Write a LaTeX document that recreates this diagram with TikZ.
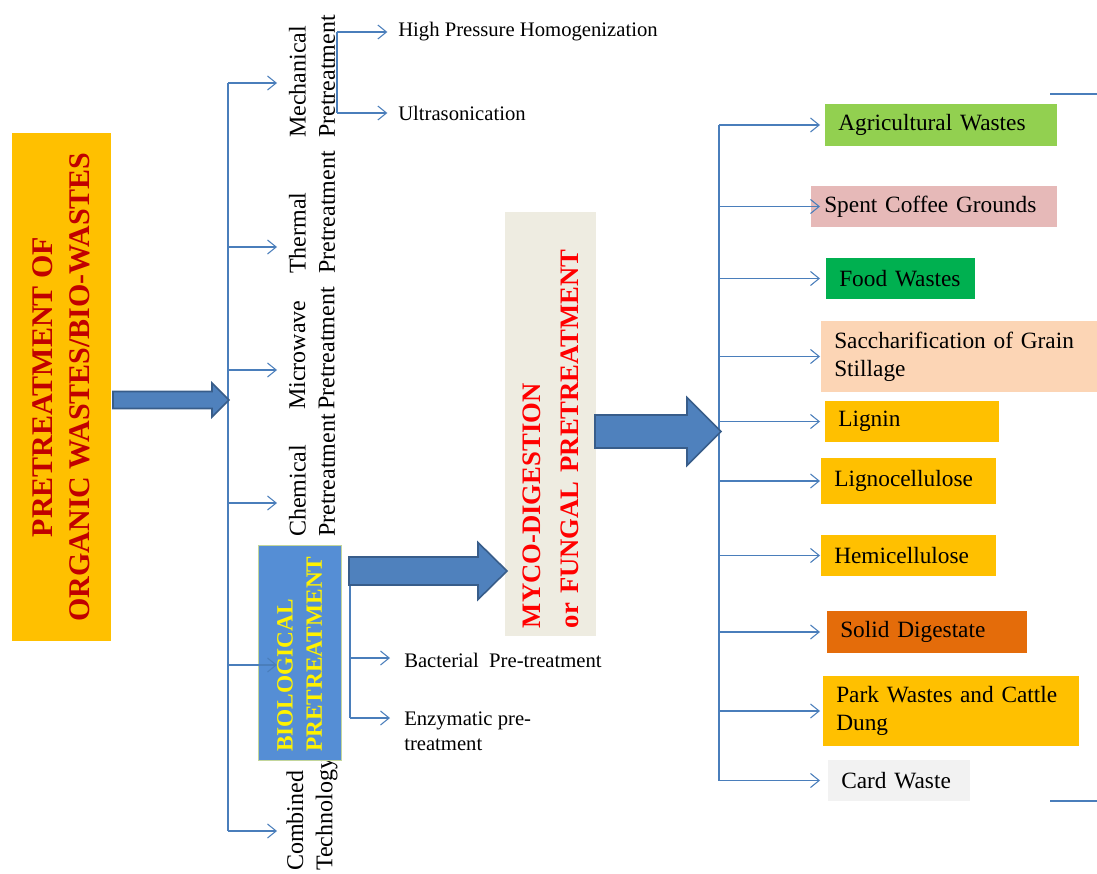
\documentclass[tikz,border=0pt]{standalone}
\usepackage{fontspec}
\setmainfont{Liberation Serif}
\usetikzlibrary{arrows.meta,positioning,calc}
\definecolor{linkblue}{HTML}{4A7EBB}
\definecolor{fatfill}{HTML}{4F81BD}
\definecolor{fatedge}{HTML}{385D8A}
\definecolor{goldbox}{HTML}{FFC000}
\definecolor{titlered}{HTML}{C00000}
\definecolor{mycobg}{HTML}{EEECE1}
\definecolor{biofill}{HTML}{558ED5}
\definecolor{bioedge}{HTML}{C3D69B}
\definecolor{agrigreen}{HTML}{92D050}
\definecolor{coffeepink}{HTML}{E6B9B8}
\definecolor{foodgreen}{HTML}{00B050}
\definecolor{sacchpeach}{HTML}{FCD5B5}
\definecolor{solidorange}{HTML}{E46C0A}
\definecolor{cardgrey}{HTML}{F2F2F2}
% block arrow: x start, x tip, y centre, half shaft, half head, head length
\newcommand{\fatarrow}[6]{%
  \filldraw[fat] (#1,#3-#4) -- (#2-#6,#3-#4) -- (#2-#6,#3-#5) -- (#2,#3)
    -- (#2-#6,#3+#5) -- (#2-#6,#3+#4) -- (#1,#3+#4) -- cycle;}

\begin{document}
\begin{tikzpicture}[
    x=0.75pt, y=-0.75pt,
    link/.style={draw=linkblue, line width=0.8pt},
    arr/.style={link, -{Straight Barb[length=6.5pt,width=10.5pt]}},
    fat/.style={fill=fatfill, draw=fatedge, line width=1.2pt},
    sidelab/.style={rotate=90, anchor=west, align=left, inner sep=0pt, font=\fontsize{18}{22}\selectfont},
    sublab/.style={anchor=west, align=left, inner sep=0pt, font=\fontsize{15.5}{19}\selectfont},
    wbox/.style={anchor=west, align=left, inner xsep=9.75pt, inner ysep=0pt, minimum height=31pt, font=\fontsize{17.5}{21}\selectfont}
]
  \useasboundingbox (0,0) rectangle (1097,874);

  % main box
  \node[rotate=90, fill=goldbox, minimum width=381pt, minimum height=74.25pt, inner sep=0pt,
        align=center, text=titlered, font=\bfseries\fontsize{22.5}{27.75}\selectfont]
        (title) at (61.5,387) {PRETREATMENT OF\\ORGANIC WASTES/BIO-WASTES};

  % pretreatment kinds
  \node[sidelab] (mech) at (312,138) {Mechanical\\Pretreatment};
  \node[sidelab] (therm) at (312,274) {Thermal\\Pretreatment};
  \node[sidelab] (micro) at (312,410) {Microwave\\Pretreatment};
  \node[sidelab] (chem) at (312,537) {Chemical\\Pretreatment};
  \node[sidelab] (comb) at (312,871) {Combined\\Technology};

  \node[rotate=90, fill=biofill, draw=bioedge, line width=0.6pt, minimum width=161.25pt, minimum height=62.25pt,
        inner xsep=6pt, inner ysep=0pt, text width=149pt, align=left, text=yellow,
        font=\bfseries\fontsize{17.5}{22}\selectfont]
        (bio) at (299.5,652.5) {BIOLOGICAL\\PRETREATMENT};

  \node[rotate=90, fill=mycobg, minimum width=318pt, minimum height=68.25pt,
        inner xsep=6pt, inner ysep=0pt, text width=306pt, align=left, text=red,
        font=\bfseries\fontsize{20}{28.5}\selectfont]
        (myco) at (550.5,424) {MYCO-DIGESTION\\or FUNGAL PRETREATMENT};

  % left tree
  \coordinate (spineL) at (228,400);
  \coordinate (mechIn) at (277,83);
  \coordinate (thermIn) at (277,247);
  \coordinate (microIn) at (277,370);
  \coordinate (chemIn) at (277,503);
  \coordinate (bioIn) at (277,665);
  \coordinate (combIn) at (277,831);
  \draw[link] (spineL |- mechIn) -- (spineL |- combIn);
  \foreach \t in {mechIn,thermIn,microIn,chemIn,bioIn,combIn}
    \draw[arr] (spineL |- \t) -- (\t);

  % mechanical sub-branches
  \node[sublab] (hph) at (398,32) {High Pressure Homogenization};
  \node[sublab] (ultra) at (398,113) {Ultrasonication};
  \coordinate (mechFork) at (337,33);
  \draw[link] (mechFork |- hph.west) -- (mechFork |- ultra.west);
  \draw[arr] (mechFork |- hph.west) -- ([xshift=-8pt]hph.west);
  \draw[arr] (mechFork |- ultra.west) -- ([xshift=-8pt]ultra.west);

  % biological sub-branches
  \node[sublab] (bact) at (404,660) {Bacterial\ \ Pre-treatment};
  \node[sublab] (enz) at (404,731) {Enzymatic pre-\\treatment};
  \coordinate (bioFork) at (350,585);
  \coordinate (bactIn) at (390,658);
  \coordinate (enzIn) at (390,718);
  \draw[link] (bioFork) -- (bioFork |- enzIn);
  \draw[arr] (bioFork |- bactIn) -- (bactIn);
  \draw[arr] (bioFork |- enzIn) -- (enzIn);

  % waste boxes
  \node[wbox, fill=agrigreen, minimum height=31.5pt, text width=154.5pt] (agri) at (825,125) {Agricultural Wastes};
  \node[wbox, fill=coffeepink, text width=165pt] (coffee) at (811,206.5) {Spent Coffee Grounds};
  \node[wbox, fill=foodgreen, text width=92.25pt] (food) at (826,278.5) {Food Wastes};
  \node[wbox, fill=sacchpeach, minimum height=53.25pt, text width=197.25pt] (sacch) at (821,356.5) {Saccharification of Grain\\Stillage};
  \node[wbox, fill=goldbox, text width=111pt] (lignin) at (825,421.5) {Lignin};
  \node[wbox, fill=goldbox, minimum height=34.5pt, text width=111.75pt] (ligno) at (821,481) {Lignocellulose};
  \node[wbox, fill=goldbox, text width=111.75pt] (hemi) at (821,555.5) {Hemicellulose};
  \node[wbox, fill=solidorange, minimum height=31.5pt, text width=130.5pt] (solid) at (827,632) {Solid Digestate};
  \node[wbox, fill=goldbox, minimum height=52.5pt, text width=172.5pt] (park) at (823,711) {Park Wastes and Cattle\\Dung};
  \node[wbox, fill=cardgrey, text width=87pt] (card) at (828,780.5) {Card Waste};

  % right tree
  \coordinate (spineR) at (719,0);
  \coordinate (tipR) at (820,0);
  \draw[link] (spineR |- agri.west) -- (spineR |- card.west);
  \foreach \b in {agri,coffee,food,sacch,lignin,ligno,hemi,solid,park,card}
    \draw[arr] (spineR |- \b.west) -- (tipR |- \b.west);

  % stray rules at the right edge
  \draw[link] (1050,94) -- (1097,94);
  \draw[link, line width=1.2pt] (1050,801) -- (1097,801);

  % block arrows
  \fatarrow{113}{229}{400}{8.5}{17}{17}
  \fatarrow{349}{507}{571}{14}{28.5}{29}
  \fatarrow{595}{721}{431.5}{16.5}{34}{34}
\end{tikzpicture}
\end{document}
